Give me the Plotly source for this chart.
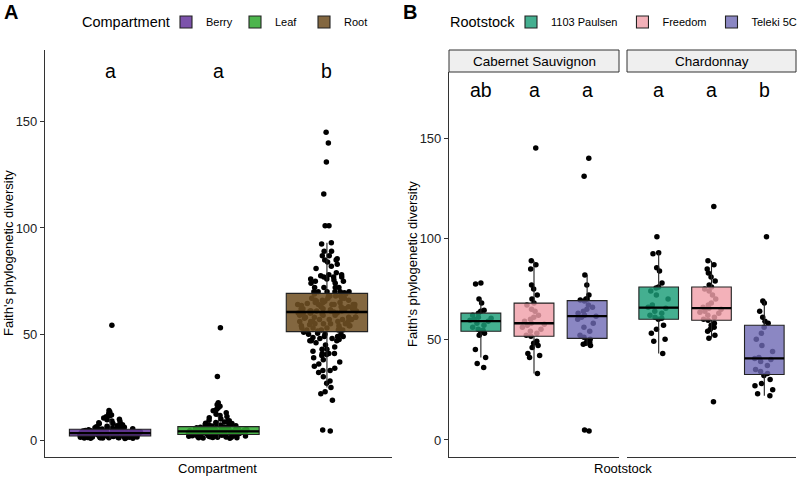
import numpy as np
import plotly.graph_objects as go

# ---------------- data ----------------
compartments = ["Berry", "Leaf", "Root"]
rootstocks = ["1103 Paulsen", "Freedom", "Teleki 5C"]
scions = ["Cabernet Sauvignon", "Chardonnay"]

berry_fpd = [1.2, 3.4, 2.1, 5.6, 1.8, 4.2, 2.7, 7.9, 3.1, 1.5, 2.4, 4.8, 6.3, 2.2, 3.7, 1.1, 5.2, 2.9, 10.6, 3.3,
             1.9, 4.5, 2.6, 8.4, 3.9, 1.4, 5.0, 2.3, 12.1, 3.6, 2.0, 4.1, 1.7, 6.8, 3.2, 2.5, 5.4, 1.3, 9.2, 3.8,
             2.8, 4.4, 1.6, 7.1, 3.0, 2.2, 5.8, 1.9, 13.5, 4.0, 2.4, 3.5, 1.0, 6.0, 4.7, 2.1, 3.4, 1.8, 11.2, 5.5,
             2.6, 3.9, 1.5, 8.9, 4.3, 2.0, 5.3, 2.9, 7.5, 3.1, 1.3, 4.9, 2.3, 10.1, 3.7, 2.7, 4.6, 1.7, 6.5, 3.3,
             2.2, 5.1, 1.2, 14.2, 4.1, 2.5, 3.6, 1.9, 7.0, 4.4, 2.8, 3.8, 1.6, 9.8, 5.6, 2.1, 4.0, 1.4, 6.1, 3.2,
             2.4, 5.4, 1.1, 12.8, 3.5, 2.0, 4.7, 2.6, 8.1, 3.0, 1.8, 5.9, 2.3, 11.7, 4.2, 2.9, 3.9, 1.5, 54.2, 4.5]

leaf_fpd = [2.1, 4.8, 3.3, 7.4, 1.6, 5.2, 3.9, 11.3, 2.7, 6.1, 4.2, 1.9, 9.0, 3.5, 5.7, 2.4, 14.6, 4.4, 3.0, 6.8,
            1.3, 5.0, 3.7, 8.2, 2.8, 4.6, 16.2, 3.2, 6.5, 2.2, 4.0, 7.9, 2.5, 5.4, 3.4, 12.4, 1.8, 4.9, 3.1, 6.3,
            2.9, 10.2, 4.3, 1.5, 5.9, 3.6, 7.2, 2.6, 17.8, 4.7, 3.3, 8.8, 2.0, 5.1, 3.8, 13.1, 2.3, 6.7, 4.1, 1.1,
            3.0, 5.5, 2.7, 9.6, 4.5, 1.7, 6.0, 3.5, 15.3, 2.4, 4.8, 3.2, 7.6, 1.4, 5.3, 3.9, 11.8, 2.9, 6.4, 4.2,
            2.1, 8.5, 3.7, 5.0, 1.9, 30.1, 4.6, 3.1, 7.0, 2.6, 5.6, 3.4, 10.7, 2.2, 4.4, 6.9, 1.6, 5.2, 3.8, 14.0,
            2.8, 4.0, 7.3, 1.2, 5.8, 3.3, 9.3, 2.5, 4.7, 6.2, 3.0, 16.9, 4.3, 2.0, 5.4, 3.6, 8.0, 2.3, 53.1, 4.9]

cab_paulsen = [36, 38, 41, 45, 52, 53, 54, 54.5, 55, 56, 57, 58, 59, 59.5, 60, 60.5, 61, 62, 63, 64,
               64.5, 68, 70, 77.5, 78]
cab_freedom = [33, 41, 42, 43, 46, 47, 48, 49, 51.5, 52, 53, 54, 55, 56, 57, 57.5, 58, 59, 60, 61,
               62, 64, 65, 67, 68, 70, 72, 75, 77, 85, 87, 89, 145]
cab_teleki = [4.5, 5, 47, 47.5, 48, 48.5, 49, 50, 51, 52, 54, 56, 58, 60, 61, 61.5, 62, 63, 64, 65,
              66, 67, 69, 69.5, 70, 70, 72, 77, 82, 131, 140]
chard_paulsen = [43, 49, 50, 53, 55, 57, 60, 60.5, 61, 62, 63, 64, 65.5, 66, 67, 70, 72, 74, 75.5, 76,
                 78, 84, 85.5, 92.5, 93, 101]
chard_freedom = [19, 50.5, 52, 54, 55, 56, 57, 58, 59.5, 60, 61, 62, 63, 63.5, 64, 65, 65.5, 66, 67, 68,
                 70, 72, 74, 75, 76, 77, 79, 81, 83, 85, 87, 89, 116]
chard_teleki = [22, 23, 25, 27, 28, 30, 32, 33, 34, 35, 37, 39, 40, 40.5, 41, 44, 47, 50, 53, 56,
                58, 59, 61, 64, 68, 69, 101]

root_fpd = cab_paulsen + cab_freedom + cab_teleki + chard_paulsen + chard_freedom + chard_teleki

letters_compartment = ["a", "a", "b"]
letters_cab = ["ab", "a", "a"]
letters_chard = ["a", "a", "b"]
letter_value = 174
y_ticks = [0, 50, 100, 150]

# ---------------- styling ----------------
W, H = 797, 477
FONT = "Liberation Sans, Arial, sans-serif"
comp_colors = {"Berry": "rgba(104,58,158,0.87)", "Leaf": "rgba(50,170,50,0.87)", "Root": "rgba(112,80,36,0.87)"}
rs_colors = {"1103 Paulsen": "rgba(27,158,119,0.82)", "Freedom": "rgba(240,160,170,0.82)",
             "Teleki 5C": "rgba(110,105,180,0.8)"}


def px(xp):
    return xp / W


def py(yp):
    return 1 - yp / H


fig = go.Figure()


def add_group(name, values, color, xa, ya, legend, showlegend, jitter):
    n = len(values)
    # jittered sample points (drawn underneath)
    fig.add_trace(go.Box(
        x=[name] * n, y=values, boxpoints="all", jitter=jitter, pointpos=0,
        marker=dict(color="black", size=5.5), line=dict(color="rgba(0,0,0,0)", width=0),
        fillcolor="rgba(0,0,0,0)", width=0.75, showlegend=False, hoverinfo="skip",
        quartilemethod="inclusive", xaxis=xa, yaxis=ya))
    # semi-transparent box on top
    fig.add_trace(go.Box(
        x=[name] * n, y=values, boxpoints="outliers", marker=dict(opacity=0, size=1),
        line=dict(color="#222222", width=1.1), fillcolor=color, width=0.75, whiskerwidth=0,
        name=name, legendgroup=name, showlegend=showlegend, legend=legend,
        quartilemethod="inclusive", xaxis=xa, yaxis=ya))
    # thick median line
    m = float(np.median(values))
    fig.add_trace(go.Box(
        x=[name], q1=[m], median=[m], q3=[m], lowerfence=[m], upperfence=[m],
        width=0.75, whiskerwidth=0, line=dict(color="black", width=2.3),
        fillcolor="rgba(0,0,0,0)", showlegend=False, hoverinfo="skip", boxpoints=False,
        xaxis=xa, yaxis=ya))


for comp, vals in zip(compartments, [berry_fpd, leaf_fpd, root_fpd]):
    add_group(comp, vals, comp_colors[comp], "x", "y", "legend", True, 0.75)

for rs, vals in zip(rootstocks, [cab_paulsen, cab_freedom, cab_teleki]):
    add_group(rs, vals, rs_colors[rs], "x2", "y2", "legend2", True, 0.6)
for rs, vals in zip(rootstocks, [chard_paulsen, chard_freedom, chard_teleki]):
    add_group(rs, vals, rs_colors[rs], "x3", "y2", "legend2", False, 0.6)

axis_common = dict(showgrid=False, zeroline=False, showline=True, linecolor="#333333", linewidth=1.1,
                   automargin=False)
xcommon = dict(axis_common, type="category", showticklabels=False, ticks="", range=[-0.6, 2.6])
ycommon = dict(axis_common, tickvals=y_ticks, ticks="outside", ticklen=4, tickcolor="#333333",
               tickfont=dict(size=13, color="#222222", family=FONT))

fig.update_layout(
    width=W, height=H, margin=dict(l=0, r=0, t=0, b=0, autoexpand=False),
    paper_bgcolor="white", plot_bgcolor="white", boxmode="overlay", hovermode=False,
    font=dict(family=FONT, color="black"),
    xaxis=dict(xcommon, domain=[px(45), px(392)], anchor="y", categoryarray=compartments,
               categoryorder="array"),
    yaxis=dict(ycommon, domain=[py(457), py(50)], anchor="x", range=[-7.7, 183.7]),
    xaxis2=dict(xcommon, domain=[px(449), px(619)], anchor="y2", categoryarray=rootstocks,
                categoryorder="array"),
    xaxis3=dict(xcommon, domain=[px(627), px(796)], anchor="y2", categoryarray=rootstocks,
                categoryorder="array"),
    yaxis2=dict(ycommon, domain=[py(457), py(72)], anchor="x2", range=[-8.45, 182.8]),
    legend=dict(orientation="h", x=px(166), xanchor="left", y=py(22), yanchor="middle",
                font=dict(size=11), bgcolor="rgba(0,0,0,0)", tracegroupgap=0,
                entrywidth=24, entrywidthmode="pixels"),
    legend2=dict(orientation="h", x=px(511), xanchor="left", y=py(22), yanchor="middle",
                 font=dict(size=11), bgcolor="rgba(0,0,0,0)", tracegroupgap=0),
)

annotations = []
for c, t in zip(compartments, letters_compartment):
    annotations.append(dict(x=c, y=letter_value, xref="x", yref="y", text=t, showarrow=False,
                            font=dict(size=19.5, color="black"), yanchor="middle"))
for c, t in zip(rootstocks, letters_cab):
    annotations.append(dict(x=c, y=letter_value, xref="x2", yref="y2", text=t, showarrow=False,
                            font=dict(size=19.5, color="black"), yanchor="middle"))
for c, t in zip(rootstocks, letters_chard):
    annotations.append(dict(x=c, y=letter_value, xref="x3", yref="y2", text=t, showarrow=False,
                            font=dict(size=19.5, color="black"), yanchor="middle"))

# legend titles
annotations.append(dict(x=px(80), y=py(22), xref="paper", yref="paper", text="Compartment", showarrow=False,
                        font=dict(size=14.5, color="black"), xanchor="left", yanchor="middle"))
annotations.append(dict(x=px(448), y=py(22), xref="paper", yref="paper", text="Rootstock", showarrow=False,
                        font=dict(size=14.5, color="black"), xanchor="left", yanchor="middle"))
# panel tags
annotations.append(dict(x=px(11), y=py(12), xref="paper", yref="paper", text="<b>A</b>", showarrow=False,
                        font=dict(size=20, color="black"), xanchor="center", yanchor="middle"))
annotations.append(dict(x=px(410), y=py(12), xref="paper", yref="paper", text="<b>B</b>", showarrow=False,
                        font=dict(size=20, color="black"), xanchor="center", yanchor="middle"))
# axis titles
annotations.append(dict(x=px(8), y=py(253), xref="paper", yref="paper", text="Faith's phylogenetic diversity",
                        textangle=-90, showarrow=False, font=dict(size=13, color="black"),
                        xanchor="center", yanchor="middle"))
annotations.append(dict(x=px(412), y=py(264), xref="paper", yref="paper", text="Faith's phylogenetic diversity",
                        textangle=-90, showarrow=False, font=dict(size=13, color="black"),
                        xanchor="center", yanchor="middle"))
annotations.append(dict(x=px(218), y=py(468), xref="paper", yref="paper", text="Compartment",
                        showarrow=False, font=dict(size=13, color="black"), xanchor="center", yanchor="middle"))
annotations.append(dict(x=px(623), y=py(468), xref="paper", yref="paper", text="Rootstock",
                        showarrow=False, font=dict(size=13, color="black"), xanchor="center", yanchor="middle"))

shapes = []
for xa, sc in zip(["x2", "x3"], scions):
    shapes.append(dict(type="rect", xref=f"{xa} domain", yref="paper", x0=0, x1=1, y0=py(72), y1=py(50),
                       fillcolor="#EFEFEF", line=dict(color="#333333", width=1), layer="below"))
    annotations.append(dict(x=0.5, y=py(61), xref=f"{xa} domain", yref="paper", text=sc, showarrow=False,
                            font=dict(size=13.5, color="black"), xanchor="center", yanchor="middle"))

fig.update_layout(annotations=annotations, shapes=shapes)
fig.write_html("out.html", config={"displayModeBar": False},
               post_script="document.body.style.margin='0px';")
